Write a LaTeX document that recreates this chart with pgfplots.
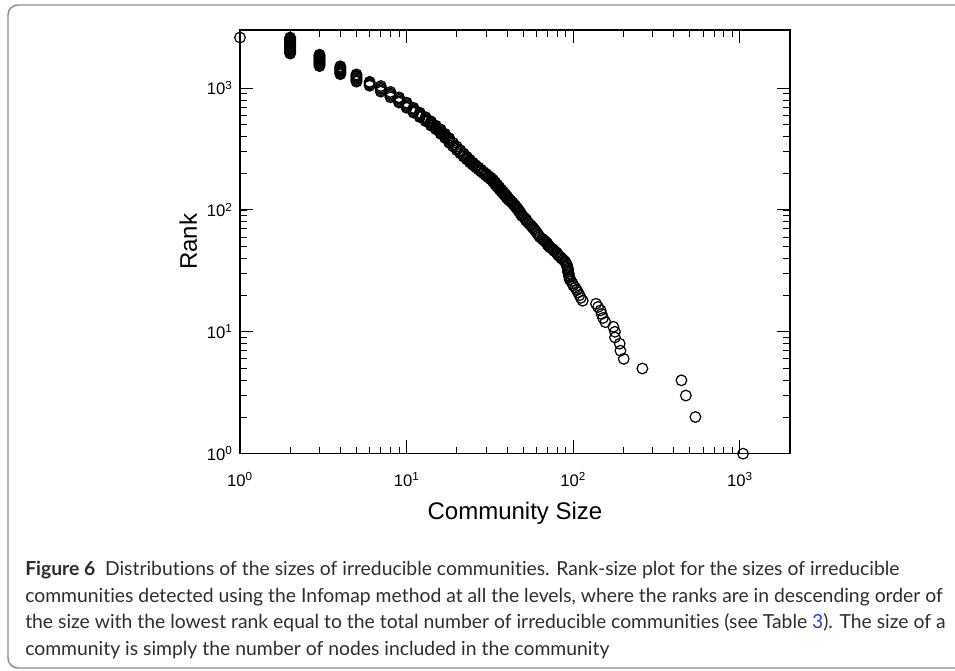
\documentclass[border=0pt]{standalone}
\usepackage{fontspec}
\setmainfont{Liberation Sans}
\newfontfamily\capfont[Ligatures=NoCommon]{Lato}
\usepackage{pgfplots}
\pgfplotsset{compat=1.18}
\definecolor{framegray}{RGB}{140,140,140}
\definecolor{captext}{RGB}{45,45,45}
\definecolor{linkblue}{RGB}{40,60,225}
\newcommand{\tl}[1]{\fontsize{12.5}{14}\selectfont 10\textsuperscript{#1}}
\begin{document}
\begin{tikzpicture}[x=0.75pt,y=0.75pt]
\useasboundingbox (0,0) rectangle (955,670);
\draw[framegray, line width=1.1pt, rounded corners=7.5pt] (975,665) -- (8,665) -- (8,2) -- (975,2);
\begin{axis}[
  at={(180pt,162.225pt)}, anchor=south west,
  scale only axis, width=412.5pt, height=317.8pt,
  xmode=log, ymode=log, xmin=1, xmax=2000, ymin=1, ymax=3000,
  clip=false,
  axis line style={line width=0.9pt},
  major tick style={line width=0.8pt, black},
  minor tick style={line width=0.6pt, black},
  major tick length=10pt, minor tick length=5pt,
  xtick={1,10,100,1000},
  xticklabels={\tl{0},\tl{1},\tl{2},\tl{3}},
  ytick={1,10,100,1000},
  yticklabels={\tl{0},\tl{1},\tl{2},\tl{3}},
  every tick label/.append style={font=\fontsize{12.5}{14}\selectfont},
  xticklabel style={anchor=base, yshift=-24.75pt},
  yticklabel style={xshift=-2pt},
  xlabel={Community Size}, ylabel={Rank},
  label style={font=\fontsize{18}{21}\selectfont},
  xlabel style={at={(axis description cs:0.5,-0.1564)}, anchor=base},
  ylabel style={at={(axis description cs:-0.0782,0.5)}, anchor=base},
]
\addplot[only marks, mark=o, mark size=4pt, mark options={line width=0.9pt, black}] coordinates {
(1,2600)
(2,2599)(2,2550)(2,2500)(2,2450)(2,2400)(2,2355)(2,2310)(2,2265)(2,2225)
(2,2185)(2,2145)(2,2105)(2,2065)(2,2025)(2,1990)(2,1955)(2,1920)
(3,1880)(3,1845)(3,1815)(3,1780)(3,1750)(3,1720)(3,1690)(3,1660)(3,1630)
(3,1600)(3,1570)(3,1545)(3,1515)
(4,1510)(4,1480)(4,1450)(4,1425)(4,1400)(4,1375)(4,1350)(4,1325)(4,1300)
(5,1295)(5,1265)(5,1240)(5,1210)(5,1185)(5,1155)(5,1130)
(6,1125)(6,1105)(6,1085)(6,1065)(6,1045)
(7,1040)(7,1010)(7,985)(7,960)(7,935)
(8,930)(8,905)(8,885)(8,862)(8,841)
(9,840)(9,820)(9,800)(9,780)(9,761)
(10,760)(10,742)(10,724)(10,706)(10,689)
(11,688)(11,673)(11,658)(11,643)(11,629)
(12,628)(12,615)(12,603)(12,590)(12,578)
(13,577)(13,566)(13,556)(13,545)(13,535)
(14,534)(14,523)(14,513)(14,502)(14,492)
(15,491)(15,483)(15,475)(15,467)(15,459)
(16,458)(16,449)(16,440)(16,431)(16,422)
(17,421)(17,413)(17,405)(17,397)(17,390)
(18,389)(18,380)(18,372)(18,364)(18,356)
(19,355)(19,343)(19,332)
(20,331)(20,320)(20,310)
(21,309)(21,300)(21,291)
(22,290)(22,282)(22,274)
(23,273)(23,266)(23,259)
(24,258)(24,251)(24,245)
(25,244)(25,239)(25,234)
(26,233)(26,228)(26,224)
(27,223)(27,219)(27,215)
(28,214)(28,210)(28,206)
(29,205)(29,202)(29,199)
(30,198)(30,194)(30,191)
(31,190)(31,187)(31,185)
(32,184)(32,181)(32,178)
(33,177)(33,173)(33,170)
(34,169)(34,165)(34,162)
(35,161)(35,158)(35,155)
(36,154)(36,151)(36,148)
(37,147)(37,144)(37,142)
(38,141)(38,138)(38,136)
(39,135)(39,133)(39,131)
(40,130)(40,127)(40,125)
(41,124)(41,121)
(42,120)(42,118)(43,116)(43,114)(44,112)(44,110)(45,108)(45,106)(46,104)(46,102)
(47,100)(47,98)(48,96)(48,94)(49,92)(49,90)(50,88)(51,86)(52,84)(52,82)
(53,80)(54,78)(55,76)(56,74)(57,72)(58,70)(59,68)(60,66)(61,64)(62,62)
(63,60)(65,58)(66,57)(67,56)(68,55)(69,54)(70,53)(70,52)(71,51)(72,50)
(73,49)(75,48)(76,47)(77,46)(79,45)(80,44)(81,43)(82,42)(84,41)(85,40)
(87,39)(89,38)(90,37)(91,36)(92,35)(92,34)(93,33)(93,32)(93,31)(94,30)
(94,29)(95,28)(95,27)(97,26)(99,25)(100,24)(103,23)(105,22)(107,21)(109,20)
(111,19)(114,18)(137,17)(141,16)(146,15)(148,14)(151,13)(156,12)(174,11)(178,10)
(178,9)(190,8)(192,7)(201,6)(260,5)(446,4)(474,3)(541,2)(1045,1)
};
\end{axis}
\begin{scope}[every node/.style={anchor=base west, inner sep=0pt, text=captext, font=\capfont\fontsize{14.5}{17}\selectfont}]
\node at (25,94.3) {\textbf{Figure 6}\hspace{0.5em}Distributions of the sizes of irreducible communities. Rank-size plot for the sizes of irreducible};
\node at (25,67.8) {communities detected using the Infomap method at all the levels, where the ranks are in descending order of};
\node at (25,41.3) {the size with the lowest rank equal to the total number of irreducible communities (see Table \textcolor{linkblue}{3}). The size of a};
\node at (25,14.8) {community is simply the number of nodes included in the community};
\end{scope}
\end{tikzpicture}
\end{document}
